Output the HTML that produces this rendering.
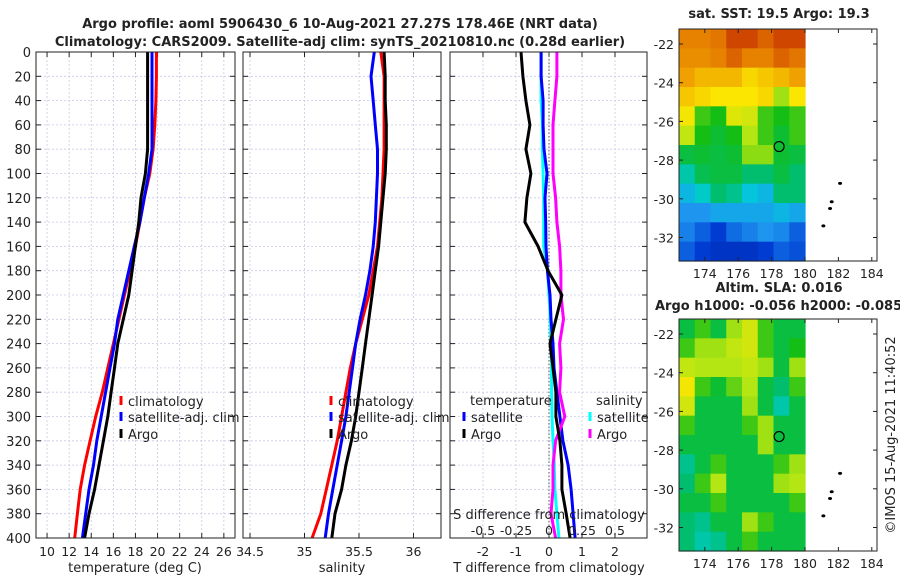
<!DOCTYPE html>
<html><head><meta charset="utf-8"><style>
body{margin:0;background:#fff;}
svg{display:block;font-family:"DejaVu Sans","Liberation Sans",sans-serif;}
</style></head><body>
<svg id="c" width="900" height="580" viewBox="0 0 900 580"></svg>
<script>
// ---------- data ----------
const depths=[0,20,40,60,80,100,120,140,160,180,200,220,240,260,280,300,320,340,360,380,400];
const tempArgo=[19.1,19.1,19.1,19.1,19.1,18.9,18.5,18.3,18.0,17.7,17.4,16.9,16.4,16.1,15.8,15.5,15.1,14.7,14.3,13.8,13.4];
const tempClim=[19.9,19.9,19.85,19.75,19.6,19.3,18.8,18.4,18.0,17.5,17.0,16.5,16.0,15.5,15.0,14.4,13.9,13.4,13.0,12.75,12.5];
const tempSat=[19.5,19.5,19.5,19.5,19.5,19.2,18.8,18.4,17.9,17.4,16.9,16.4,16.1,15.7,15.3,14.9,14.5,14.2,13.8,13.5,13.2];
const salArgo=[35.73,35.74,35.74,35.75,35.75,35.74,35.72,35.70,35.68,35.65,35.62,35.59,35.56,35.53,35.50,35.47,35.43,35.38,35.34,35.28,35.25];
const salSat=[35.64,35.61,35.63,35.65,35.67,35.67,35.66,35.65,35.63,35.60,35.56,35.51,35.47,35.44,35.41,35.38,35.34,35.30,35.26,35.22,35.19];
const salClim=[35.70,35.73,35.73,35.73,35.73,35.72,35.71,35.69,35.67,35.63,35.59,35.53,35.47,35.42,35.38,35.34,35.30,35.25,35.20,35.15,35.07];
const dTArgo=[-0.85,-0.79,-0.70,-0.58,-0.70,-0.55,-0.67,-0.73,-0.33,-0.03,0.39,0.21,0.03,0.12,0.21,0.21,0.33,0.39,0.39,0.52,0.64];
const dTSat=[-0.24,-0.24,-0.18,-0.18,-0.15,-0.06,-0.12,-0.10,-0.09,-0.05,0.03,0.06,0.12,0.15,0.24,0.33,0.42,0.58,0.67,0.73,0.79];
const dSSat=[-0.06,-0.06,-0.06,-0.05,-0.05,-0.045,-0.04,-0.04,-0.04,-0.01,0,0.01,0.015,0.02,0.02,0.023,0.03,0.04,0.045,0.06,0.075];
const dSArgo=[0.06,0.06,0.045,0.03,0.03,0.03,0.05,0.06,0.08,0.09,0.09,0.11,0.08,0.09,0.08,0.12,0.05,0.03,0.03,0.015,0.05];
const tTicks=[10,12,14,16,18,20,22,24,26];
const sTicks=[34.5,35,35.5,36];
const dTTicks=[-2,-1,0,1,2];
const dSTicks=[-0.5,-0.25,0,0.25,0.5];
const dSTickLabels=["-0.5","-0.25","0","0.25","0.5"];
const depthTicks=[0,20,40,60,80,100,120,140,160,180,200,220,240,260,280,300,320,340,360,380,400];
const sstGrid=[
[0.80,0.80,0.82,0.88,0.88,0.85,0.88,0.88],
[0.78,0.78,0.80,0.85,0.80,0.80,0.85,0.82],
[0.75,0.72,0.72,0.72,0.68,0.70,0.72,0.75],
[0.70,0.68,0.66,0.66,0.66,0.68,0.55,0.66],
[0.65,0.50,0.48,0.62,0.60,0.50,0.48,0.50],
[0.58,0.48,0.46,0.48,0.56,0.50,0.46,0.50],
[0.45,0.46,0.45,0.46,0.54,0.54,0.46,0.45],
[0.38,0.44,0.45,0.45,0.42,0.42,0.45,0.42],
[0.32,0.36,0.42,0.40,0.34,0.32,0.42,0.42],
[0.28,0.28,0.30,0.30,0.30,0.30,0.32,0.30],
[0.25,0.20,0.15,0.22,0.25,0.28,0.26,0.20],
[0.20,0.15,0.12,0.12,0.12,0.15,0.20,0.18]];
const slaGrid=[
[0.45,0.50,0.45,0.55,0.60,0.50,0.45,0.45],
[0.50,0.55,0.55,0.58,0.60,0.50,0.45,0.48],
[0.58,0.56,0.56,0.56,0.58,0.55,0.45,0.55],
[0.65,0.50,0.46,0.52,0.56,0.45,0.42,0.50],
[0.60,0.45,0.45,0.45,0.55,0.45,0.38,0.45],
[0.50,0.45,0.45,0.45,0.50,0.55,0.45,0.45],
[0.45,0.45,0.45,0.45,0.45,0.55,0.45,0.45],
[0.40,0.45,0.50,0.45,0.45,0.45,0.50,0.55],
[0.42,0.50,0.56,0.45,0.45,0.45,0.55,0.56],
[0.45,0.45,0.50,0.45,0.45,0.45,0.45,0.50],
[0.42,0.40,0.45,0.45,0.55,0.50,0.45,0.45],
[0.42,0.38,0.40,0.45,0.50,0.45,0.45,0.45]];
const lonTicks=[174,176,178,180,182,184];
const latTicks=[-22,-24,-26,-28,-30,-32];
const argoLon=178.45, argoLat=-27.3;
const islandLon=[182.1,181.6,181.5,181.1];
const islandLat=[-29.2,-30.15,-30.5,-31.4];

// ---------- helpers ----------
const NS="http://www.w3.org/2000/svg";
const svg=document.getElementById('c');
function el(tag,attrs,parent){const e=document.createElementNS(NS,tag);for(const k in attrs)e.setAttribute(k,attrs[k]);(parent||svg).appendChild(e);return e;}
function txt(x,y,s,size,anchor,weight,parent){const t=el('text',{x:x,y:y,'font-size':size,'text-anchor':anchor||'middle','font-weight':weight||'normal',fill:'#222'},parent);t.textContent=s;return t;}
const yTop=52,yBot=538;
const yD=d=>yTop+(d/400)*(yBot-yTop);
const cmapStops=[[0,[0,20,140]],[0.15,[0,60,210]],[0.28,[30,150,240]],[0.35,[0,205,215]],[0.42,[0,190,110]],[0.48,[20,190,20]],[0.56,[180,230,20]],[0.66,[250,230,0]],[0.75,[240,160,0]],[0.85,[220,100,0]],[0.92,[190,30,0]],[1,[150,0,0]]];
function cmap(v){for(let i=1;i<cmapStops.length;i++){const a=cmapStops[i-1],b=cmapStops[i];if(v<=b[0]){const f=(v-a[0])/(b[0]-a[0]);return 'rgb('+a[1].map((c,k)=>Math.round(c+(b[1][k]-c)*f)).join(',')+')';}}return 'rgb(150,0,0)';}

function panel(name,x0,x1,xs,ticks,labels,showY){
  const g=el('g',{});
  
  
  el('rect',{x:x0,y:yTop,width:x1-x0,height:yBot-yTop,fill:'#fff'},g);
  depthTicks.forEach(d=>{el('line',{x1:x0,x2:x1,y1:yD(d),y2:yD(d),stroke:'#c5cbe6','stroke-width':0.8,'stroke-dasharray':'2,2'},g);
    el('line',{x1:x0,x2:x0+5,y1:yD(d),y2:yD(d),stroke:'#222'},g);el('line',{x1:x1-5,x2:x1,y1:yD(d),y2:yD(d),stroke:'#222'},g);
    if(showY){const t=txt(x0-5,yD(d)+5,String(d),13,'end',null,g);}});
  ticks.forEach((v,i)=>{const x=xs(v);el('line',{x1:x,x2:x,y1:yTop,y2:yBot,stroke:'#c5cbe6','stroke-width':0.8,'stroke-dasharray':'2,2'},g);
    el('line',{x1:x,x2:x,y1:yBot,y2:yBot-5,stroke:'#222'},g);el('line',{x1:x,x2:x,y1:yTop,y2:yTop+5,stroke:'#222'},g);
    if(labels){const t=txt(x,556,labels[i],12.5,'middle',null,g);}});
  return g;
}
function line(g,name,xs,vals,color,w){const p=vals.map((v,i)=>(i?'L':'M')+xs(v).toFixed(1)+','+yD(depths[i]).toFixed(1)).join('');
  const e=el('path',{d:p,fill:'none',stroke:color,'stroke-width':w||3,'stroke-linejoin':'round'},g);
  
  }
function frame(g,x0,x1){el('rect',{x:x0,y:yTop,width:x1-x0,height:yBot-yTop,fill:'none',stroke:'#222','stroke-width':1},g);}
function legItem(g,x,y,color,label,name){el('line',{x1:x,x2:x,y1:y-10,y2:y-1,stroke:color,'stroke-width':3},g);
  const t=txt(x+7,y,label,13,'start',null,g);}

// titles
let t=txt(340,28,'Argo profile: aoml 5906430_6 10-Aug-2021 27.27S 178.46E (NRT data)',13,'middle','bold');

t=txt(340,46,'Climatology: CARS2009. Satellite-adj clim: synTS_20210810.nc (0.28d earlier)',13,'middle','bold');


// panel 1: temperature
const xT=v=>36+(v-9)*11.05;
let g1=panel('temperature-panel',36,235,xT,tTicks,tTicks.map(String),true);
line(g1,'temp-climatology-line',xT,tempClim,'#f00');
line(g1,'temp-satellite-line',xT,tempSat,'#00f');
line(g1,'temp-argo-line',xT,tempArgo,'#000');
legItem(g1,121,406,'#f00','climatology','legend-climatology');
legItem(g1,121,422,'#00f','satellite-adj. clim','legend-satellite-adj');
legItem(g1,121,439,'#000','Argo','legend-argo');
frame(g1,36,235);
t=txt(135,572,'temperature (deg C)',13);

// panel 2: salinity
const xS=v=>250+(v-34.5)*109;
let g2=panel('salinity-panel',243,441,xS,sTicks,["34.5","35","35.5","36"],false);
line(g2,'sal-climatology-line',xS,salClim,'#f00');
line(g2,'sal-satellite-line',xS,salSat,'#00f');
line(g2,'sal-argo-line',xS,salArgo,'#000');
legItem(g2,331,406,'#f00','climatology','legend-climatology');
legItem(g2,331,422,'#00f','satellite-adj. clim','legend-satellite-adj');
legItem(g2,331,439,'#000','Argo','legend-argo');
frame(g2,243,441);
t=txt(342,572,'salinity',13);

// panel 3: differences
const xDT=v=>549+v*33;
const xDS=v=>549+v*132;
let g3=panel('difference-panel',450,647,xDT,dTTicks,dTTicks.map(String),false);
el('line',{x1:xDT(0),x2:xDT(0),y1:yTop,y2:yBot,stroke:'#555','stroke-width':1,'stroke-dasharray':'1.5,2'},g3);
line(g3,'s-diff-satellite-line',xDS,dSSat,'#0ff');
line(g3,'t-diff-satellite-line',xDT,dTSat,'#00f');
line(g3,'s-diff-argo-line',xDS,dSArgo,'#f0f');
line(g3,'t-diff-argo-line',xDT,dTArgo,'#000');
t=txt(470,405,'temperature',13,'start',null,g3);
legItem(g3,464,422,'#00f','satellite','legend-t-satellite');
legItem(g3,464,439,'#000','Argo','legend-t-argo');
t=txt(596,405,'salinity',13,'start',null,g3);
legItem(g3,590,422,'#0ff','satellite','legend-s-satellite');
legItem(g3,590,439,'#f0f','Argo','legend-s-argo');
t=txt(549,519,'S difference from climatology',13,'middle',null,g3);
dSTicks.forEach((v,i)=>{const tt=txt(xDS(v),535,dSTickLabels[i],12.5,'middle',null,g3);});
frame(g3,450,647);
t=txt(549,572,'T difference from climatology',13);

// maps
function map(name,top,bot,grid,title1,title2){
  const g=el('g',{});
  
  
  const L=679,R=877;
  const xm=lon=>805+(lon-180)*16.7;
  const pxPerLat=19.35;
  const ym=lat=>top+15+(-22-lat)*pxPerLat;
  const rows=grid.length,cols=grid[0].length;
  const cw=(xm(180)-L)/cols,rh=(bot-top)/rows;
  grid.forEach((row,r)=>row.forEach((v,c)=>{const cell=el('rect',{x:(L+c*cw).toFixed(2),y:(top+r*rh).toFixed(2),width:(cw+0.6).toFixed(2),height:(rh+0.6).toFixed(2),fill:cmap(v)},g);
    
    }));
  islandLon.forEach((lo,i)=>{const d=el('ellipse',{cx:xm(lo),cy:ym(islandLat[i]),rx:2,ry:1.5,fill:'#000'},g);
    
    });
  const m=el('circle',{cx:xm(argoLon),cy:ym(argoLat),r:5,fill:'none',stroke:'#000','stroke-width':1.2},g);
  
  
  el('rect',{x:L,y:top,width:R-L,height:bot-top,fill:'none',stroke:'#222'},g);
  lonTicks.forEach(lo=>{const x=xm(lo);el('line',{x1:x,x2:x,y1:bot,y2:bot-4,stroke:'#222'},g);el('line',{x1:x,x2:x,y1:top,y2:top+4,stroke:'#222'},g);
    const tt=txt(x,bot+17,String(lo),12.5,'middle',null,g);});
  latTicks.forEach(la=>{const y=ym(la);el('line',{x1:L,x2:L+4,y1:y,y2:y,stroke:'#222'},g);el('line',{x1:R-4,x2:R,y1:y,y2:y,stroke:'#222'},g);
    const tt=txt(L-5,y+5,String(la),12.5,'end',null,g);});
  let a=txt(779,title2?top-27:top-11,title1,13,'middle','bold',g);
  if(title2){a=txt(655,top-9,title2,13,'start','bold',g);}
}
map('sst-map',29,261,sstGrid,'sat. SST: 19.5 Argo: 19.3',null);
map('sla-map',319,551,slaGrid,'Altim. SLA: 0.016','Argo h1000: -0.056 h2000: -0.085');
t=el('text',{x:0,y:0,'font-size':13,'text-anchor':'middle',fill:'#222',transform:'translate(895,435) rotate(-90)'});
t.textContent='\u00a9IMOS 15-Aug-2021 11:40:52';


</script>
</body></html>
